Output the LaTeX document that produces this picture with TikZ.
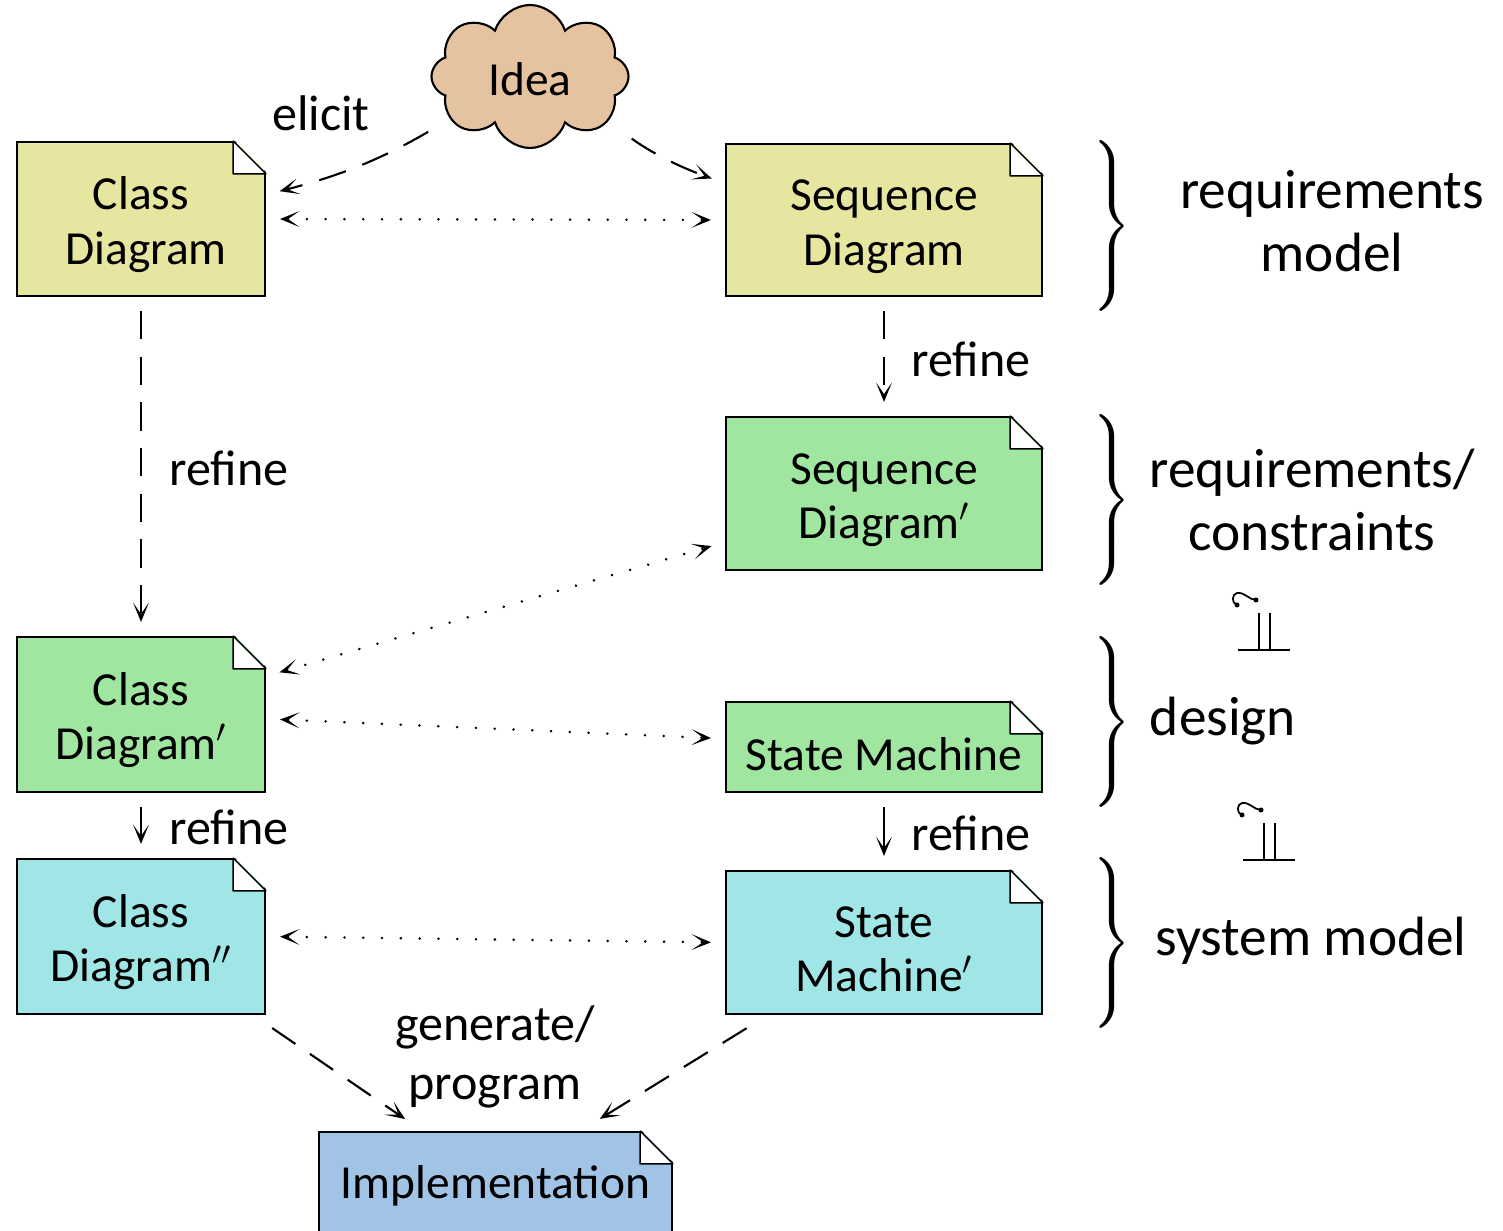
\documentclass[tikz,border=0pt]{standalone}
\usepackage{fix-cm}
\usepackage{fontspec}
\setmainfont{Carlito}
\usetikzlibrary{calc,shapes.symbols,arrows.meta}

\definecolor{reqyellow}{HTML}{E6E6A0}
\definecolor{reqgreen}{HTML}{A0E6A0}
\definecolor{syscyan}{HTML}{A0E6E6}
\definecolor{implblue}{HTML}{A0C3E6}
\definecolor{ideatan}{HTML}{E6C3A0}

\tikzset{
	docbox/.style={draw,rectangle,line width=1.2pt,inner sep=0pt,align=center,font=\fontsize{27}{30.8}\selectfont},
	twolines/.style={docbox,text height=56pt},
	flowlabel/.style={align=center,font=\fontsize{28.5}{33.5}\selectfont},
	layerlabel/.style={align=center,font=\fontsize{31.5}{36.2}\selectfont},
	flow/.style={line width=1.2pt,shorten <=.28cm,shorten >=.28cm,-{Stealth[length=11pt,width=9pt,inset=6.5pt]}},
	dashflow/.style={flow,dash pattern=on 16pt off 10pt},
	dotflow/.style={flow,line width=1.5pt,{Stealth[length=11pt,width=9pt,inset=6.5pt,line width=0pt]}-{Stealth[length=11pt,width=9pt,inset=6.5pt,line width=0pt]},line cap=round,dash pattern=on .1pt off 10.6pt},
	refinesign/.pic={
		\draw[line width=1.1pt] (0,0)--(1.04,0);
		\draw[line width=1.1pt] (.42,0)--(.42,.74);
		\draw[line width=1.1pt] (.64,0)--(.64,.74);
		\draw[line width=1pt] (.36,1) .. controls (.22,1) and (.14,1.16) .. (-.02,1.14) .. controls (-.12,1.12) and (-.14,.94) .. (-.02,.9);
		\fill (.36,1) circle (.05);
		\fill (-.02,.9) circle (.05);
	}
}

\newcommand{\foldcorner}[1]{%
	\fill[white] ($(#1.north east)+(-.66,.04)$)--($(#1.north east)+(.04,.04)$)--($(#1.north east)+(.04,-.66)$)--cycle;
	\draw[thick,fill=white,line join=bevel] ($(#1.north east)+(-.66,0)$)--++(0,-.66)--++(.66,0)--cycle;
}
\newcommand{\layerbrace}{\scalebox{2.5}[2.71]{$\left.\rule{0pt}{21.5pt}\right\}$}}

\begin{document}
\begin{tikzpicture}
	\useasboundingbox (0,0) rectangle (30.06,24.6);

	%idea
	\node[draw,cloud,cloud puffs=8,cloud puff arc=145,aspect=1.4,line width=1.2pt,fill=ideatan,minimum width=3.94cm,minimum height=2.86cm,inner sep=0pt,text height=22pt,font=\fontsize{27}{30.8}\selectfont] (idea) at (10.6,23.07) {Idea};

	%documents
	\node[twolines,fill=reqyellow,minimum width=4.96cm,minimum height=3.08cm] (cd) at (2.82,20.22) {Class\\\hphantom{$'$}Diagram};
	\node[twolines,fill=reqyellow,minimum width=6.32cm,minimum height=3.04cm] (sq) at (17.68,20.2) {Sequence\\Diagram};
	\node[twolines,fill=reqgreen,minimum width=6.32cm,minimum height=3.06cm] (sqp) at (17.68,14.73) {Sequence\\Diagram$'$};
	\node[twolines,fill=reqgreen,minimum width=4.96cm,minimum height=3.1cm] (cdp) at (2.82,10.31) {Class\\Diagram$'$};
	\node[docbox,fill=reqgreen,minimum width=6.32cm,minimum height=1.8cm,text height=27pt] (sm) at (17.68,9.66) {State Machine};
	\node[twolines,fill=syscyan,minimum width=4.96cm,minimum height=3.1cm] (cdpp) at (2.82,5.87) {Class\\Diagram$''$};
	\node[twolines,fill=syscyan,minimum width=6.32cm,minimum height=2.86cm] (smp) at (17.68,5.75) {State\\Machine$'$};
	\node[docbox,fill=implblue,minimum width=7.06cm,minimum height=2.16cm] (impl) at (9.91,.88) {Implementation};

	%folds
	\foldcorner{cd}
	\foldcorner{sq}
	\foldcorner{sqp}
	\foldcorner{cdp}
	\foldcorner{sm}
	\foldcorner{cdpp}
	\foldcorner{smp}
	\foldcorner{impl}

	%connectors
	\draw[dashflow,shorten <=.5cm] (idea.208) to[bend left=8] (cd.11);
	\draw[dashflow,shorten <=.58cm] (idea.330) to[bend right=8] (sq.167);
	\draw[dashflow] (cd.south)--(cdp.north);
	\draw[dashflow] (sq.south)--(sqp.north);
	\draw[flow] (cdp.south)--(cdpp.north);
	\draw[flow] (sm.south)--(smp.north);
	\draw[dashflow,shorten <=.46cm,shorten >=.42cm] (cdpp.325)--(impl.143);
	\draw[dashflow,shorten <=.5cm,shorten >=.46cm] (smp.212)--(impl.33);
	\draw[dotflow] (cd.east)--(sq.west);
	\draw[dotflow] (cdp.17)--(sqp.197);
	\draw[dotflow] (cdp.358)--(sm.177);
	\draw[dotflow] (cdpp.east)--(smp.west);

	%flow labels
	\node[flowlabel] (elicit) at (6.42,22.34) {elicit};
	\node[flowlabel] (refinecd) at (4.58,15.24) {refine};
	\node[flowlabel] (refinesq) at (19.42,17.42) {refine};
	\node[flowlabel] (refinecdp) at (4.58,8.06) {refine};
	\node[flowlabel] (refinesm) at (19.42,7.94) {refine};
	\node[flowlabel] (generate) at (9.9,3.46) {generate/\\program};

	%braces
	\node (bracereq) at (22.18,20.13) {\layerbrace};
	\node (bracecon) at (22.18,14.65) {\layerbrace};
	\node (bracedes) at (22.18,10.21) {\layerbrace};
	\node (bracesys) at (22.18,5.79) {\layerbrace};

	%layer labels
	\node[layerlabel] (reqmodel) at (26.64,20.18) {requirements\\model};
	\node[layerlabel] (reqcon) at (26.24,14.6) {requirements/\\constraints};
	\node[layerlabel] (design) at (24.46,10.18) {design};
	\node[layerlabel] (sysmodel) at (26.22,5.78) {system model};

	%refinement signs
	\pic at (24.76,11.6) {refinesign};
	\pic at (24.86,7.4) {refinesign};
\end{tikzpicture}
\end{document}
